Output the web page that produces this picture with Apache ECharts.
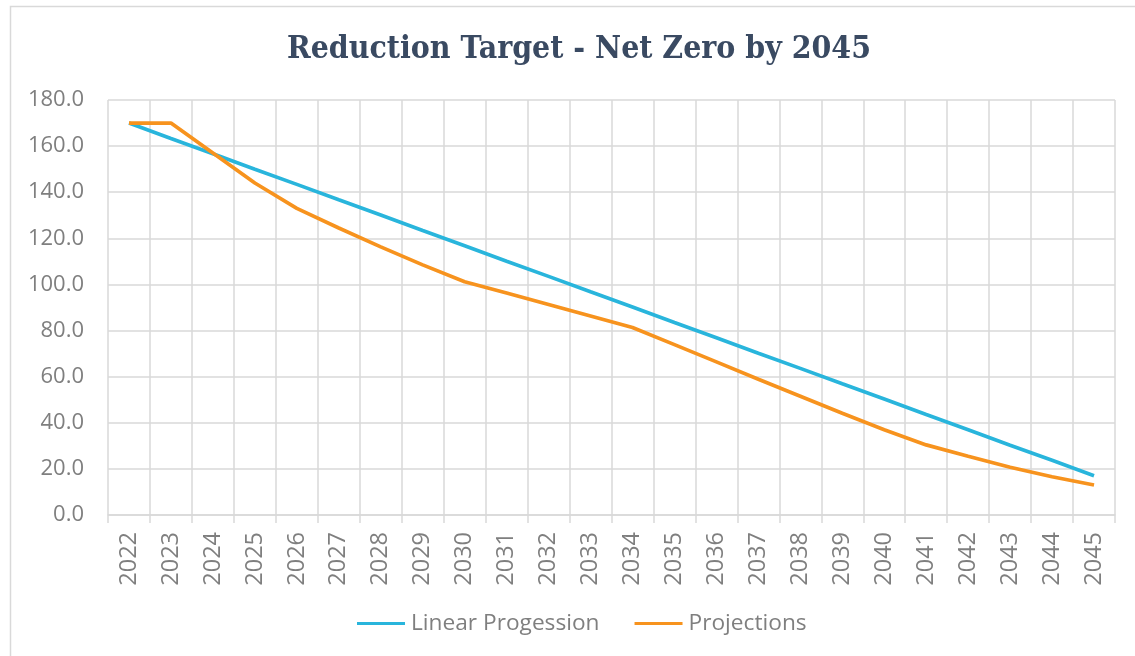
<!DOCTYPE html>
<html>
<head>
<meta charset="utf-8">
<script src="https://cdn.jsdelivr.net/npm/echarts@6/dist/echarts.min.js"></script>
<style>
html,body{margin:0;padding:0;background:#fff;}
#chart{width:1135px;height:656px;}
</style>
</head>
<body>
<div id="chart"></div>
<script>
const years = ['2022','2023','2024','2025','2026','2027','2028','2029','2030','2031','2032','2033','2034','2035','2036','2037','2038','2039','2040','2041','2042','2043','2044','2045'];
const linearProgression = [170.0,163.3,156.7,150.0,143.4,136.7,130.1,123.4,116.8,110.1,103.5,96.8,90.2,83.5,76.9,70.2,63.6,56.9,50.3,43.6,37.0,30.3,23.7,17.0];
const projections = [170.0,170.0,157.0,144.0,133.0,124.5,116.3,108.5,101.2,96.3,91.3,86.3,81.3,73.9,66.4,58.9,51.5,44.1,37.0,30.4,25.5,20.7,16.6,13.0];
const seriesNames = ['Linear Progession','Projections'];
const titleText = 'Reduction Target - Net Zero by 2045';

const chart = echarts.init(document.getElementById('chart'), null, {renderer:'canvas'});
const gray = '#7f7f7f';
const gridColor = '#d9d9d9';
chart.setOption({
  animation:false,
  backgroundColor:'#ffffff',
  graphic:[{
    type:'rect', silent:true,
    shape:{x:10.5,y:6.5,width:1200,height:700},
    style:{fill:'none',stroke:'#d9d9d9',lineWidth:1.5}
  }],
  title:{
    text:titleText,
    left:282, top:29,
    textStyle:{fontFamily:'DejaVu Serif Condensed, DejaVu Serif, serif',fontWeight:'bold',fontSize:31.7,color:'#3a4a62'}
  },
  legend:{
    top:607, left:352,
    icon:'rect', itemWidth:48, itemHeight:3, itemGap:35,
    textStyle:{fontFamily:'Open Sans',fontSize:22.7,color:gray,padding:[0,0,0,1]},
    data:seriesNames
  },
  grid:{left:108,right:20,top:100,bottom:141,containLabel:false},
  xAxis:{
    type:'category', data:years, boundaryGap:true,
    axisLine:{show:true,lineStyle:{color:gridColor,width:1.5}},
    axisTick:{show:true,length:8,lineStyle:{color:gridColor,width:1.5}},
    axisLabel:{rotate:90,interval:0,margin:17,fontFamily:'Open Sans',fontSize:23.5,color:gray},
    splitLine:{show:true,interval:0,lineStyle:{color:gridColor,width:1.5}}
  },
  yAxis:{
    type:'value', min:0, max:180, interval:20,
    axisLine:{show:false}, axisTick:{show:false},
    axisLabel:{margin:24,fontFamily:'Open Sans',fontSize:22,color:gray,formatter:v=>v.toFixed(1)},
    splitLine:{show:true,lineStyle:{color:gridColor,width:1.5}}
  },
  series:[
    {name:seriesNames[0],type:'line',data:linearProgression,symbol:'none',
     lineStyle:{color:'#29b5dc',width:3.7},itemStyle:{color:'#29b5dc'}},
    {name:seriesNames[1],type:'line',data:projections,symbol:'none',
     lineStyle:{color:'#f7931e',width:3.7},itemStyle:{color:'#f7931e'}}
  ]
});
</script>
</body>
</html>
